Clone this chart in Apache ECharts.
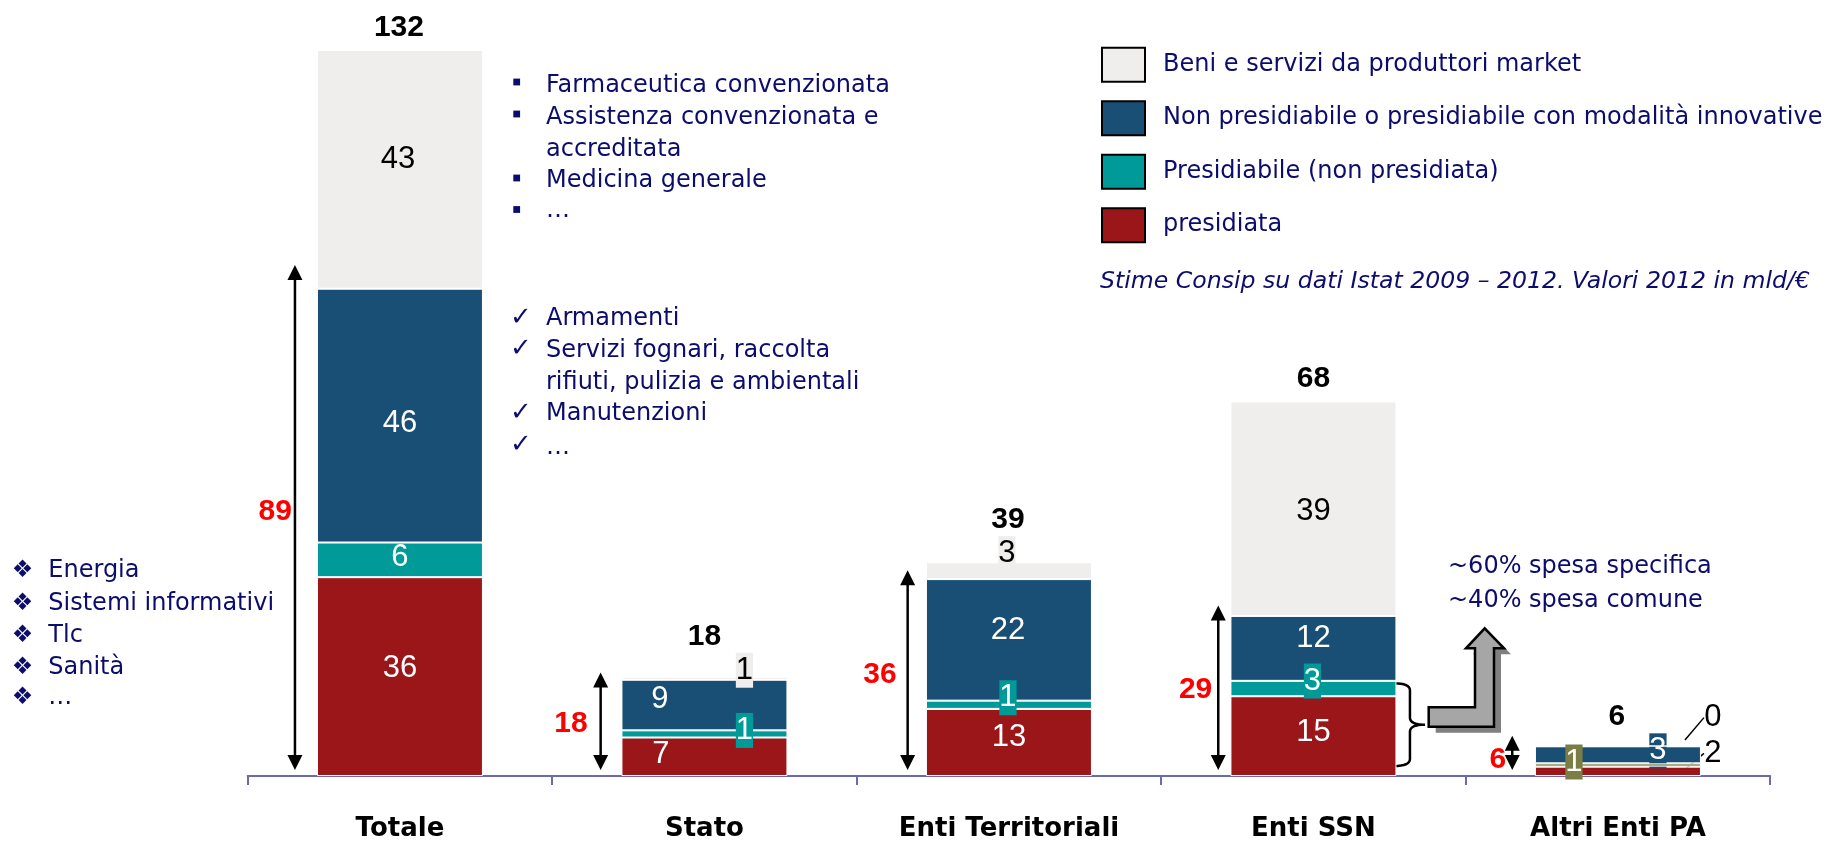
<!DOCTYPE html>
<html><head><meta charset="utf-8">
<script src="https://cdn.jsdelivr.net/npm/echarts@6/dist/echarts.min.js"></script>
<style>html,body{margin:0;padding:0;background:#fff}#c{width:1831px;height:842px}</style>
</head><body><div id="c"></div>
<script>
// ---------- data (mld €, 2012) ----------
const categories = ['Totale', 'Stato', 'Enti Territoriali', 'Enti SSN', 'Altri Enti PA'];
const seriesNames = ['presidiata', 'Presidiabile (non presidiata)',
  'Non presidiabile o presidiabile con modalità innovative', 'Beni e servizi da produttori market'];
// segment sizes
const presidiata      = [36.15, 7.0, 12.2, 14.5, 1.7];
const presidiabile    = [6.3, 1.3, 1.5, 2.8, 0.6];
const nonPresidiabile = [46.15, 9.2, 22.1, 11.8, 3.1];
const beniMarket      = [43.4, 0.55, 3.05, 39.0, 0.1];
// printed segment labels
const presidiataLabels      = [36, 7, 13, 15, 2];
const presidiabileLabels    = [6, 1, 1, 3, 1];
const nonPresidiabileLabels = [46, 9, 22, 12, 3];
const beniMarketLabels      = [43, 1, 3, 39, 0];
// totals and span (presidiata + presidiabile + non presidiabile) annotations
const totals     = [132, 18, 39, 68, 6];
const spanLabels = [89, 18, 36, 29, 6];
const spanTop    = [92.9, 18.8, 37.4, 31.0, 7.3];

(function () {
// ---------- styles ----------
const NAVY = '#0c0c6c';
const colors = ['#9b1619', '#009b98', '#194f75', '#efeeec'];
const OLIVE = '#7b7e44';
const zOrder = [2, 5, 3, 4];
const labelOffsets = [
  [[0, -8], [-43.5, -2.5], [0, -5], [0, -3.5], [95, -18.3]],
  [[0, -2.5], [40, -3.5], [-1, -7], [-1, -7.5], [-44, -3]],
  [[0, 8], [-44.5, -5.5], [-1, -9.5], [0, -10], [40, -4]],
  [[-2, -10], [40, -8], [-2, -17], [0, 3], [95, -28.7]]
];
const boxed = [[0,0,0,0,0],[0,1,1,1,1],[0,0,0,0,1],[0,1,1,0,0]];
const arrowDx = [-105, -103.8, -101.3, -95.2, -105.7];
const spanLabelDx = [-3, -13, -11, -6, -6];
const spanLabelDy = [-6, 2, 5, 2, 7];
const totalDx = [-1, 0, -1, 0, -1];
const totalDy = [-22, -40, -43, -23, -29];

const valueArrays = [presidiata, presidiabile, nonPresidiabile, beniMarket];
const labelArrays = [presidiataLabels, presidiabileLabels, nonPresidiabileLabels, beniMarketLabels];
const stackTop = categories.map((c, i) => valueArrays.reduce((a, arr) => a + arr[i], 0));

function itemLabel(s, i) {
  const l = { offset: labelOffsets[s][i] };
  if (boxed[s][i]) {
    l.backgroundColor = (s === 1 && i === 4) ? OLIVE : colors[s];
    l.padding = [5, 0];
  }
  if (s === 0 && i === 4) l.color = '#000';
  return l;
}

const barSeries = valueArrays.map((arr, s) => ({
  name: seriesNames[s], type: 'bar', stack: 'tot', barWidth: 166, z: zOrder[s],
  silent: true, emphasis: { disabled: true },
  itemStyle: { color: colors[s], borderColor: '#fff', borderWidth: 1 },
  label: {
    show: true, position: 'inside', color: s === 3 ? '#000' : '#fff',
    fontFamily: 'Liberation Sans', fontSize: 31, lineHeight: 25,
    formatter: p => String(labelArrays[s][p.dataIndex])
  },
  data: arr.map((v, i) => {
    const d = { value: v, label: itemLabel(s, i) };
    if (s === 1 && i === 4) d.itemStyle = { color: OLIVE };
    return d;
  })
}));

const spanSeries = {
  type: 'custom', z: 10, silent: true,
  data: spanTop.map((v, i) => [i, v, spanLabels[i]]),
  renderItem: (params, api) => {
    const i = api.value(0);
    const pt = api.coord([i, api.value(1)]);
    const pb = api.coord([i, 0]);
    const x = pb[0] + arrowDx[i];
    const y0 = pt[1], y1 = pb[1] - 6;
    const h = 15, w = 7.5;
    return { type: 'group', children: [
      { type: 'line', shape: { x1: x, y1: y0 + h - 2, x2: x, y2: y1 - h + 2 }, style: { stroke: '#000', lineWidth: 2.5 } },
      { type: 'polygon', shape: { points: [[x, y0], [x - w, y0 + h], [x + w, y0 + h]] }, style: { fill: '#000' } },
      { type: 'polygon', shape: { points: [[x, y1], [x - w, y1 - h], [x + w, y1 - h]] }, style: { fill: '#000' } },
      { type: 'text', x: x + spanLabelDx[i], y: (y0 + y1) / 2 + spanLabelDy[i],
        style: { text: String(api.value(2)), fill: '#ff0000', font: 'bold 30px "Liberation Sans"', align: 'right', verticalAlign: 'middle' } }
    ]};
  }
};

const totalSeries = {
  type: 'custom', z: 10, silent: true,
  data: totals.map((t, i) => [i, stackTop[i], t]),
  renderItem: (params, api) => {
    const i = api.value(0);
    const c = api.coord([i, api.value(1)]);
    return { type: 'text', x: c[0] + totalDx[i], y: c[1] + totalDy[i],
      style: { text: String(api.value(2)), fill: '#000', font: 'bold 30px "Liberation Sans"', align: 'center', verticalAlign: 'middle' } };
  }
};

const option = {
  animation: false,
  backgroundColor: '#fff',
  grid: { left: 247.7, right: 60.8, top: 6, bottom: 65 },
  legend: {
    orient: 'vertical', left: 1101, top: 46.7, padding: 0, itemWidth: 43, itemHeight: 34, itemGap: 17.5,
    icon: 'rect', selectedMode: false,
    data: [seriesNames[3], seriesNames[2], seriesNames[1], seriesNames[0]],
    itemStyle: { borderColor: '#000', borderWidth: 2 },
    textStyle: { color: NAVY, fontFamily: 'DejaVu Sans', fontSize: 24, padding: [0, 0, 0, 13] }
  },
  xAxis: {
    type: 'category', data: categories,
    axisLine: { lineStyle: { color: '#6a6aae', width: 2 } },
    axisTick: { show: true, length: 9, lineStyle: { color: '#6a6aae', width: 2 } },
    axisLabel: { color: '#000', fontFamily: 'DejaVu Sans', fontWeight: 'bold', fontSize: 26, margin: 40 }
  },
  yAxis: { type: 'value', min: 0, max: 140, show: false, splitLine: { show: false } },
  series: [...barSeries, spanSeries, totalSeries]
};

const chart = echarts.init(document.getElementById('c'));
chart.setOption(option);

// ---------- annotations ----------
const F = '24px "DejaVu Sans"';
const g = [];
function txt(t, x, y, font, fill) {
  g.push({ type: 'text', x, y, silent: true, style: { text: t, font: font || F, fill: fill || NAVY, verticalAlign: 'middle' } });
}
function sq(cx, cy) {
  g.push({ type: 'rect', silent: true, shape: { x: cx - 3.4, y: cy - 3.4, width: 6.8, height: 6.8 }, style: { fill: NAVY } });
}
function glyph(t, cx, cy, size) {
  g.push({ type: 'text', x: cx, y: cy, silent: true, style: { text: t, font: size + 'px "DejaVu Sans"', fill: NAVY, align: 'center', verticalAlign: 'middle' } });
}
const b1 = [['Farmaceutica convenzionata', 85.5, 82], ['Assistenza convenzionata e', 117.5, 114], ['accreditata', 149.5, null],
            ['Medicina generale', 181, 178], ['…', 210.5, 209.5]];
b1.forEach(r => { txt(r[0], 546, r[1]); if (r[2] !== null) sq(516.7, r[2]); });
const b2 = [['Armamenti', 319, 318], ['Servizi fognari, raccolta', 350.7, 349.7], ['rifiuti, pulizia e ambientali', 383, null],
            ['Manutenzioni', 414, 413], ['…', 447.5, 445]];
b2.forEach(r => { txt(r[0], 546, r[1]); if (r[2] !== null) glyph('✓', 521, r[2], 26); });
const b3 = [['Energia', 570.8], ['Sistemi informativi', 604.2], ['Tlc', 635.8], ['Sanità', 667.5], ['…', 697.5]];
b3.forEach(r => { txt(r[0], 48.3, r[1]); glyph('❖', 22.5, r[1], 24); });
txt('Stime Consip su dati Istat 2009 – 2012. Valori 2012 in mld/€', 1100, 282, 'italic 23.6px "DejaVu Sans"');
txt('~60% spesa specifica', 1448, 567);
txt('~40% spesa comune', 1448, 601);

// brace on Enti SSN
function quad(p0, c, p1, n) {
  const out = [];
  for (let k = 0; k <= n; k++) {
    const t = k / n, u = 1 - t;
    out.push([u * u * p0[0] + 2 * u * t * c[0] + t * t * p1[0], u * u * p0[1] + 2 * u * t * c[1] + t * t * p1[1]]);
  }
  return out;
}
const pBase = chart.convertToPixel({ xAxisIndex: 0, yAxisIndex: 0 }, [3, 0]);
const pTop = chart.convertToPixel({ xAxisIndex: 0, yAxisIndex: 0 }, [3, presidiata[3] + presidiabile[3]]);
const x0 = pBase[0] + 80.5, x1 = pBase[0] + 96.5, x2 = pBase[0] + 111.5;
const yT = pTop[1] + 2.5, yB = pBase[1] - 10, yM = (yT + yB) / 2, r = 7;
const bracePts = [].concat(
  quad([x0, yT], [x1, yT], [x1, yT + r], 8),
  quad([x1, yM - r], [x1, yM], [x2, yM], 8),
  quad([x2, yM], [x1, yM], [x1, yM + r], 8),
  quad([x1, yB - r], [x1, yB], [x0, yB], 8)
);
g.push({ type: 'polyline', silent: true, shape: { points: bracePts }, style: { stroke: '#000', lineWidth: 2.5, fill: null } });
// L-shaped arrow
const Lpts = [[1428.7, 707.3], [1475, 707.3], [1475, 648.3], [1466, 648.3], [1484.7, 628.3], [1504, 648.3], [1494, 648.3], [1494, 726.7], [1428.7, 726.7]];
g.push({ type: 'polygon', silent: true, shape: { points: Lpts.map(p => [p[0] + 7, p[1] + 6]) }, style: { fill: '#808080' } });
g.push({ type: 'polygon', silent: true, shape: { points: Lpts }, style: { fill: '#a6a6a6', stroke: '#000', lineWidth: 2.5 } });
// leader lines for small labels of Altri Enti PA
const pG = chart.convertToPixel({ xAxisIndex: 0, yAxisIndex: 0 }, [4, stackTop[4] - beniMarket[4] / 2]);
const pR = chart.convertToPixel({ xAxisIndex: 0, yAxisIndex: 0 }, [4, presidiata[4] / 2]);
g.push({ type: 'line', silent: true, shape: { x1: pG[0] + 67, y1: pG[1] - 6, x2: pG[0] + 86, y2: pG[1] - 28.4 }, style: { stroke: '#000', lineWidth: 1.5 } });
g.push({ type: 'line', silent: true, shape: { x1: pR[0] + 67, y1: pR[1] - 2, x2: pR[0] + 86, y2: pR[1] - 18 }, style: { stroke: '#000', lineWidth: 1.5 } });

chart.setOption({ graphic: { elements: g } });
})();
</script>
</body></html>
